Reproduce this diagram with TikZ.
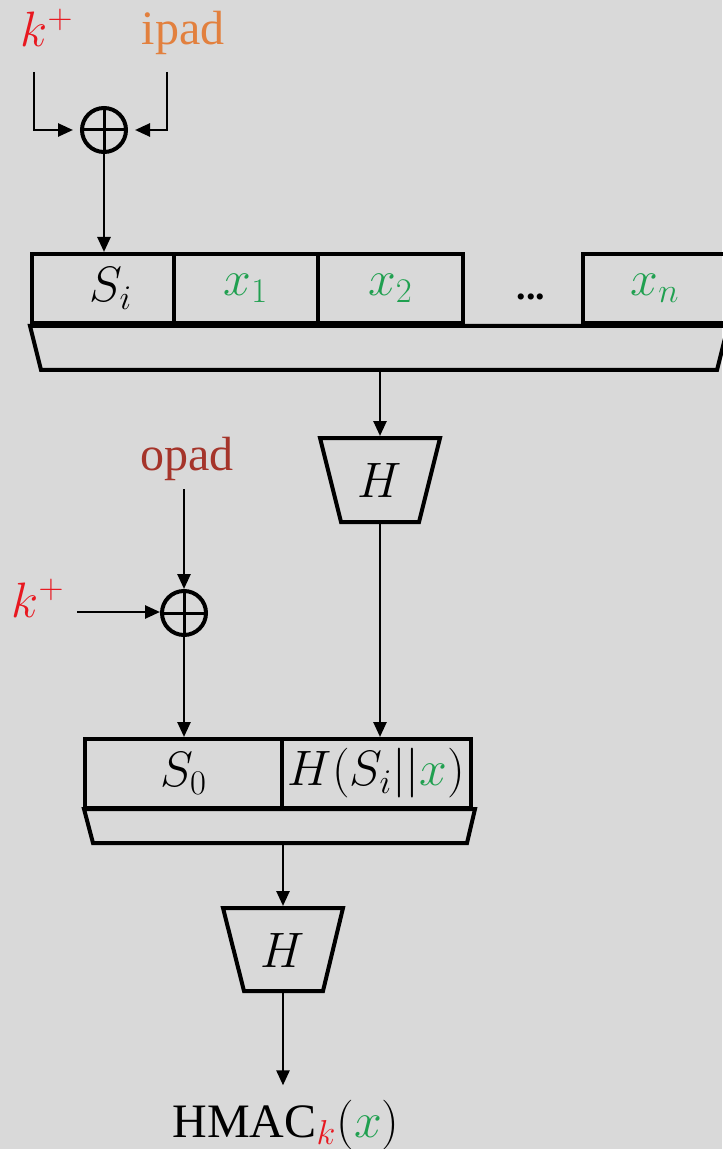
\documentclass[tikz,border=0pt]{standalone}
\usepackage{fontspec}
\setmainfont{Liberation Serif}
\usetikzlibrary{arrows.meta}
\definecolor{bg}{RGB}{217,217,217}
\definecolor{kred}{RGB}{232,24,32}
\definecolor{ipadc}{RGB}{226,128,62}
\definecolor{opadc}{RGB}{165,52,42}
\definecolor{xgreen}{RGB}{32,160,80}
\begin{document}
\begin{tikzpicture}[x=0.5pt,y=-0.5pt,
  every node/.style={font=\fontsize{24}{28}\selectfont, inner sep=0pt},
  cell/.style={draw, line width=2pt, minimum height=34.5pt, inner sep=0pt},
  shapeline/.style={draw, line width=2pt, line join=miter},
  xorc/.style={draw, circle, line width=2pt, minimum size=22pt, path picture={\draw[line width=1.5pt] (path picture bounding box.north) -- (path picture bounding box.south) (path picture bounding box.west) -- (path picture bounding box.east);}},
  arr/.style={line width=1.3pt, -{Triangle[length=7.5pt,width=6.5pt]}},
]
\fill[bg] (0,0) rectangle (722,1149);
\useasboundingbox (0,0) rectangle (722,1149);

% top inputs
\node[text=kred, anchor=base] (k1) at (47,47) {$k^{+}$};
\node[text=ipadc, anchor=base] (ipad) at (183,45) {ipad};
\coordinate (kin1) at (34,72);
\coordinate (ipin) at (167,72);
\node[xorc] (xor1) at (104,130) {};

% message row
\node[cell, minimum width=71pt] (Si) at (103,288.5) {\hspace{8pt}$S_i$};
\node[cell, minimum width=72pt] (x1) at (246,288.5) {$\textcolor{xgreen}{x_1}$};
\node[cell, minimum width=72.5pt] (x2) at (390.5,288.5) {$\textcolor{xgreen}{x_2}$};
\node (dots) at (531,297) {\fontsize{19}{22}\selectfont\textbf{...}};
\node[cell, minimum width=72pt] (xn) at (655,288.5) {$\textcolor{xgreen}{x_n}$};
\draw[shapeline] (30,326) -- (728,326) -- (717,370) -- (41,370) -- cycle;
\coordinate (pad1b) at (380,372);

% inner hash
\draw[shapeline] (320,438) -- (440,438) -- (419,522) -- (341,522) -- cycle;
\node (H1) at (380,480) {$H$};
\coordinate (H1t) at (380,436);
\coordinate (H1b) at (380,524);

% outer inputs
\node[text=opadc, anchor=base] (opad) at (187,470) {opad};
\coordinate (opin) at (184,489);
\node[text=kred, anchor=base] (k2) at (38,617) {$k^{+}$};
\coordinate (kin2) at (77,612);
\node[xorc] (xor2) at (184,613) {};

% second row
\node[cell, minimum width=98.5pt] (S0) at (183.5,773.5) {$S_0$};
\node[cell, minimum width=94.5pt] (Hx) at (376.5,773.5) {$H(S_i||\textcolor{xgreen}{x})$};
\draw[shapeline] (84,809) -- (475,809) -- (467,843) -- (93,843) -- cycle;
\coordinate (pad2b) at (283,845);

% outer hash
\draw[shapeline] (223,908) -- (343,908) -- (323,991) -- (244,991) -- cycle;
\node (H2) at (283,950) {$H$};
\coordinate (H2t) at (283,906);
\coordinate (H2b) at (283,993);
\node[anchor=base] (hmac) at (286,1137) {HMAC$_{\textcolor{kred}{k}}(\textcolor{xgreen}{x})$};

% connectors
\draw[arr] (kin1) |- ([xshift=-3.5pt]xor1.west);
\draw[arr] (ipin) |- ([xshift=3.5pt]xor1.east);
\draw[arr] (xor1.south) -- (xor1.south |- Si.north);
\draw[arr] (pad1b) -- (H1t);
\draw[arr] (H1b) -- (H1b |- Hx.north);
\draw[arr] (opin) -- (xor2.north);
\draw[arr] (kin2) -- (kin2 -| xor2.west);
\draw[arr] (xor2.south) -- (xor2.south |- S0.north);
\draw[arr] (pad2b) -- (H2t);
\draw[arr, shorten >=7pt] (H2b) -- (H2b |- hmac.north);
\end{tikzpicture}
\end{document}
